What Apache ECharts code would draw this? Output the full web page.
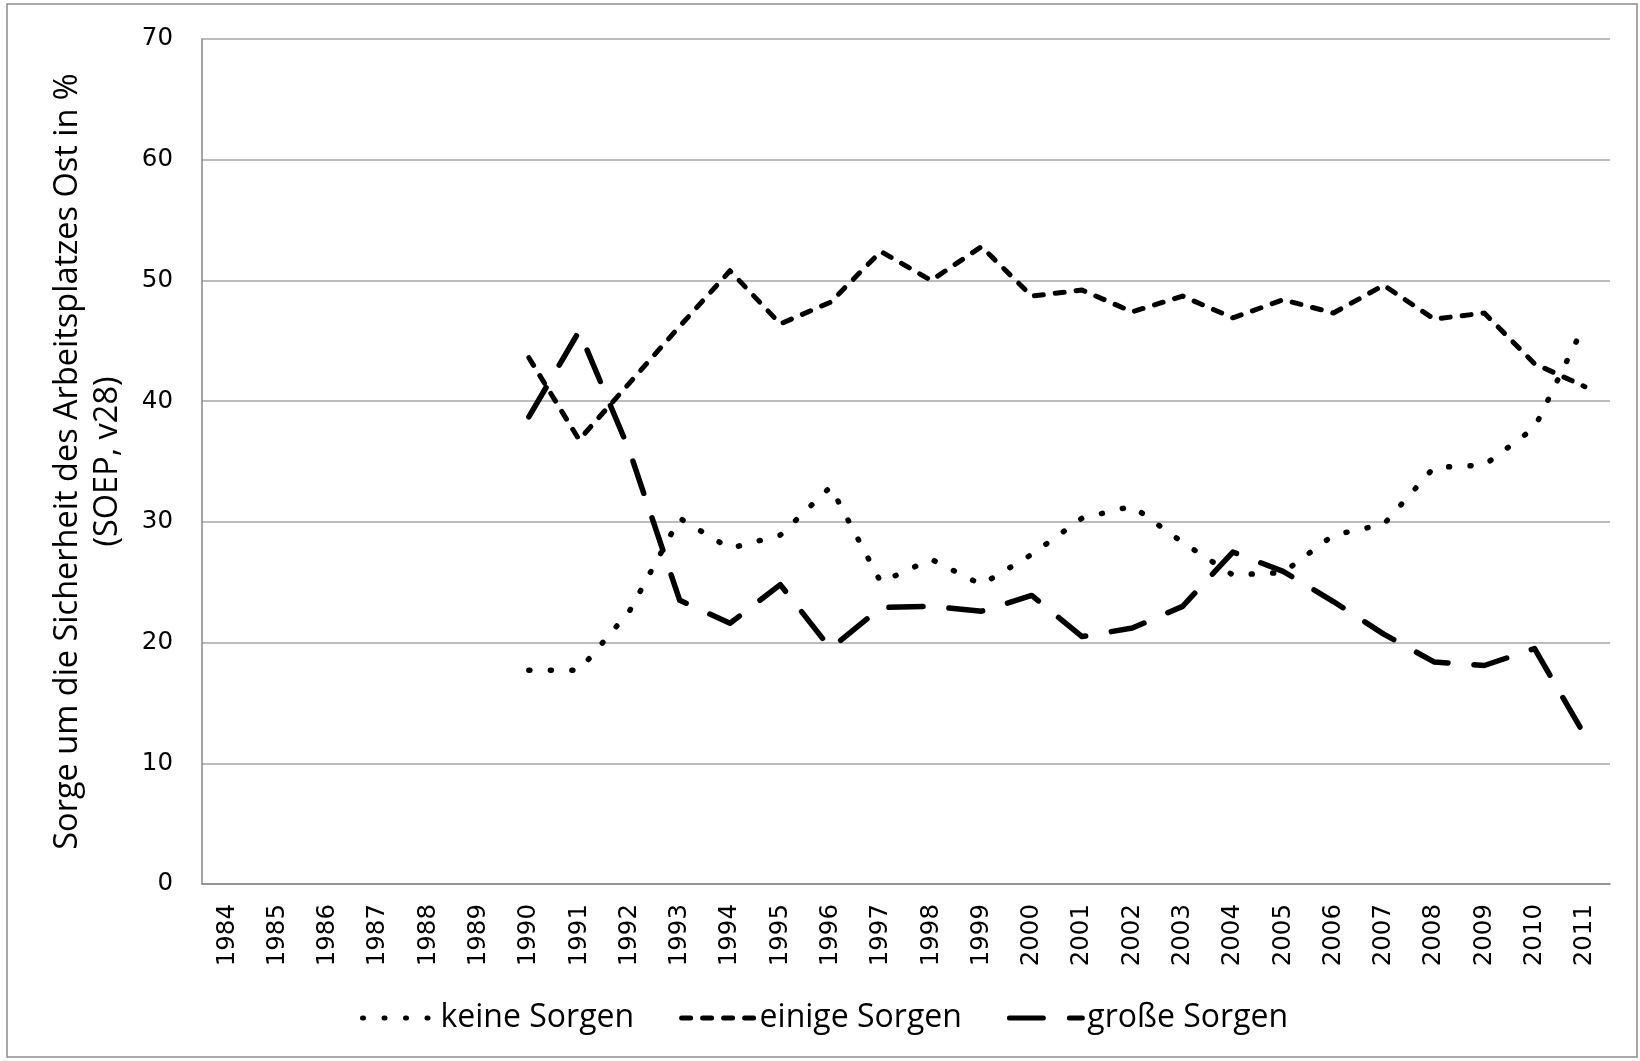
<!DOCTYPE html>
<html>
<head>
<meta charset="utf-8">
<script src="https://cdn.jsdelivr.net/npm/echarts@6/dist/echarts.min.js"></script>
<style>
  html, body { margin: 0; padding: 0; background: #fff; }
  #chart { width: 1640px; height: 1061px; }
</style>
</head>
<body>
<div id="chart"></div>
<script>
// Jahre (Kategorien)
var years = ["1984", "1985", "1986", "1987", "1988", "1989", "1990", "1991", "1992", "1993",
  "1994", "1995", "1996", "1997", "1998", "1999", "2000", "2001", "2002", "2003",
  "2004", "2005", "2006", "2007", "2008", "2009", "2010", "2011"];

// Werte in %, 1984-1989 keine Daten (Ost)
var keineSorgen = [null, null, null, null, null, null,
  17.7, 17.7, 22.6, 30.3, 27.8, 28.9, 32.9, 25.0, 26.9, 24.8, 27.3,
  30.3, 31.3, 28.3, 25.6, 25.8, 28.9, 29.8, 34.5, 34.7, 37.8, 46.4];
var einigeSorgen = [null, null, null, null, null, null,
  43.6, 36.8, 41.5, 46.2, 50.8, 46.4, 48.2, 52.4, 50.0, 52.8, 48.7,
  49.2, 47.4, 48.7, 46.9, 48.4, 47.3, 49.6, 46.8, 47.3, 43.1, 41.2];
var grosseSorgen = [null, null, null, null, null, null,
  38.7, 45.8, 35.9, 23.5, 21.6, 24.8, 19.5, 22.9, 23.0, 22.6, 23.9,
  20.5, 21.2, 23.0, 27.5, 25.9, 23.4, 20.7, 18.4, 18.1, 19.5, 12.3];

var yTicks = { min: 0, max: 70, interval: 10 };

var chart = echarts.init(document.getElementById("chart"));

var baseFont = "Open Sans";
var tickFont = "DejaVu Sans";

function lineSeries(name, data, dash, width) {
  return {
    name: name,
    type: "line",
    data: data,
    symbol: "none",
    connectNulls: false,
    lineStyle: {
      color: "#000",
      width: width,
      type: dash,
      cap: "round",
      join: "round"
    },
    itemStyle: { color: "#000" }
  };
}

var option = {
  backgroundColor: "#fff",
  animation: false,
  graphic: [
    {
      type: "rect",
      shape: { x: 7, y: 4, width: 1630, height: 1053 },
      style: { fill: "none", stroke: "#8c8c8c", lineWidth: 1.5 },
      silent: true
    }
  ],
  grid: {
    left: 202,
    right: 30,
    top: 39,
    bottom: 177,
    containLabel: false
  },
  legend: {
    left: 355,
    top: 997,
    itemWidth: 73,
    itemHeight: 14,
    itemGap: 45,
    itemStyle: { color: "transparent", borderWidth: 0, opacity: 0 },
    lineStyle: { width: 5, type: "inherit", cap: "round" },
    textStyle: {
      fontFamily: baseFont,
      fontSize: 32,
      color: "#000"
    },
    data: ["keine Sorgen", "einige Sorgen", "große Sorgen"]
  },
  xAxis: {
    type: "category",
    data: years,
    boundaryGap: true,
    axisLine: { show: true, lineStyle: { color: "#868686", width: 1.5 } },
    axisTick: { show: false },
    axisLabel: {
      rotate: 90,
      margin: 20,
      interval: 0,
      fontFamily: tickFont,
      fontSize: 24.5,
      color: "#000"
    },
    splitLine: { show: false }
  },
  yAxis: {
    type: "value",
    min: yTicks.min,
    max: yTicks.max,
    interval: yTicks.interval,
    name: "Sorge um die Sicherheit des Arbeitsplatzes Ost in %\n(SOEP, v28)",
    nameLocation: "middle",
    nameRotate: 90,
    nameGap: 74,
    nameTextStyle: {
      fontFamily: baseFont,
      fontSize: 32.5,
      lineHeight: 40,
      color: "#000",
      align: "center"
    },
    axisLine: { show: true, lineStyle: { color: "#868686", width: 1.5 } },
    axisTick: { show: false },
    axisLabel: {
      margin: 29,
      fontFamily: tickFont,
      fontSize: 24.5,
      color: "#000"
    },
    splitLine: { show: true, lineStyle: { color: "#a6a6a6", width: 1.5 } }
  },
  series: [
    lineSeries("keine Sorgen", keineSorgen, [1, 20.5], 5.5),
    lineSeries("einige Sorgen", einigeSorgen, [9, 12], 5),
    lineSeries("große Sorgen", grosseSorgen, [34, 26], 5.5)
  ]
};

chart.setOption(option);
</script>
</body>
</html>
